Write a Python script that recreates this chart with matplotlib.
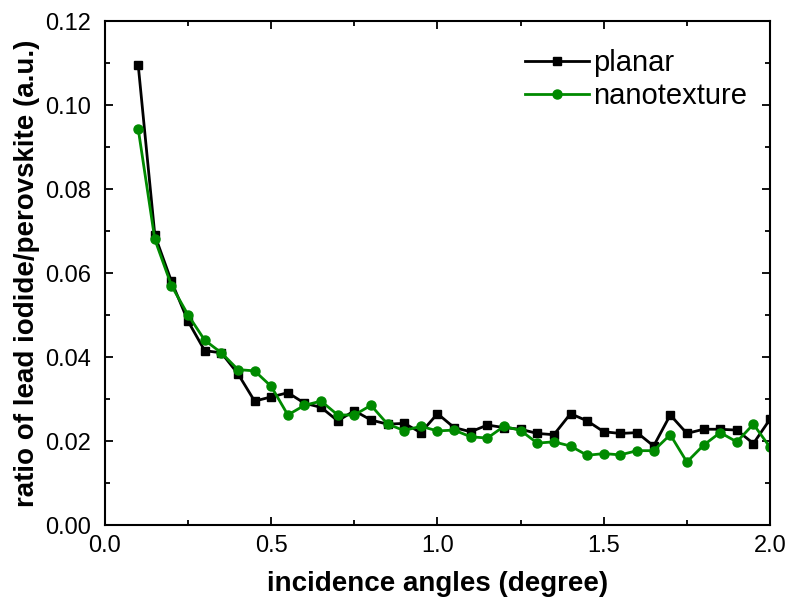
import matplotlib
matplotlib.use('Agg')
import matplotlib.pyplot as plt
import numpy as np
from matplotlib.ticker import MultipleLocator

plt.rcParams['font.family'] = ['Liberation Sans', 'DejaVu Sans']

angles = np.round(np.arange(0.10, 2.0001, 0.05), 2)

planar = [0.1095, 0.0690, 0.0580, 0.0485, 0.0415, 0.0410, 0.0360, 0.0295,
          0.0305, 0.0315, 0.0290, 0.0280, 0.0248, 0.0272, 0.0250, 0.0240,
          0.0242, 0.0220, 0.0265, 0.0232, 0.0222, 0.0238, 0.0232, 0.0228,
          0.0218, 0.0215, 0.0265, 0.0248, 0.0222, 0.0218, 0.0220, 0.0188,
          0.0262, 0.0218, 0.0228, 0.0228, 0.0226, 0.0194, 0.0252]

nanotexture = [0.0943, 0.0680, 0.0570, 0.0500, 0.0440, 0.0410, 0.0370, 0.0367,
               0.0330, 0.0262, 0.0285, 0.0295, 0.0262, 0.0262, 0.0285, 0.0240,
               0.0225, 0.0235, 0.0224, 0.0226, 0.0210, 0.0207, 0.0235, 0.0225,
               0.0195, 0.0198, 0.0188, 0.0166, 0.0170, 0.0167, 0.0177, 0.0177,
               0.0215, 0.0150, 0.0190, 0.0220, 0.0198, 0.0240, 0.0185]

fig = plt.figure(figsize=(7.88, 6.02), dpi=100)
ax = fig.add_axes([0.1332, 0.1279, 0.8440, 0.8372])

ax.plot(angles, planar, color='black', marker='s', markersize=6, linewidth=2, label='planar')
ax.plot(angles, nanotexture, color='#008a00', marker='o', markersize=6.5, linewidth=2, label='nanotexture')

ax.set_xlim(0, 2.0)
ax.set_ylim(0, 0.12)
ax.xaxis.set_major_locator(MultipleLocator(0.5))
ax.xaxis.set_minor_locator(MultipleLocator(0.25))
ax.yaxis.set_major_locator(MultipleLocator(0.02))
ax.yaxis.set_minor_locator(MultipleLocator(0.01))
ax.xaxis.set_major_formatter(plt.FormatStrFormatter('%.1f'))
ax.yaxis.set_major_formatter(plt.FormatStrFormatter('%.2f'))

ax.tick_params(which='both', direction='in', top=True, right=True, width=1.3)
ax.tick_params(which='major', length=6, labelsize=17)
ax.tick_params(axis='x', which='major', pad=7)
ax.tick_params(axis='y', which='major', pad=10)
ax.tick_params(which='minor', length=3.5)
for s in ax.spines.values():
    s.set_linewidth(1.5)

ax.set_xlabel('incidence angles (degree)', fontsize=20, fontweight='bold', labelpad=10)
ax.set_ylabel('ratio of lead iodide/perovskite (a.u.)', fontsize=20, fontweight='bold', labelpad=4)

ax.legend(loc='upper right', bbox_to_anchor=(1.0, 0.99), frameon=False, fontsize=21,
          handlelength=2.2, borderaxespad=0.4, labelspacing=0.15, handletextpad=0.12)

fig.savefig('out.png', dpi=100)
